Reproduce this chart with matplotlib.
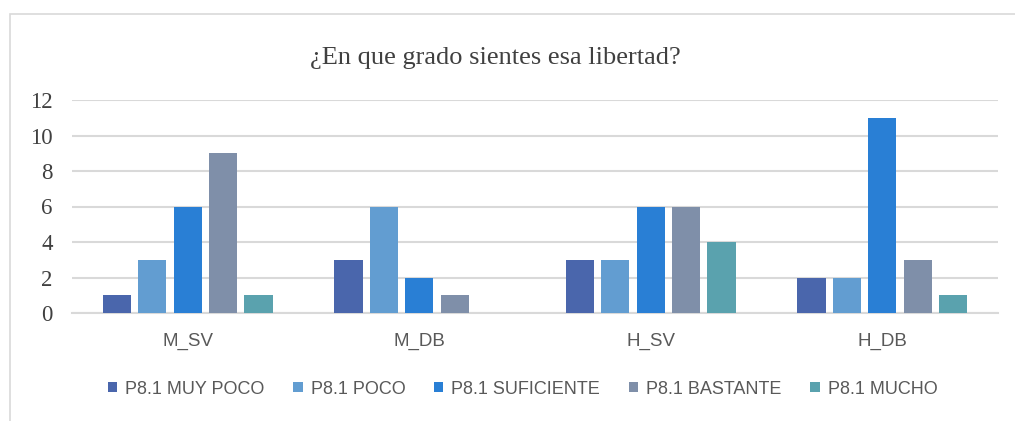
import numpy as np
import matplotlib.pyplot as plt
from matplotlib.patches import Rectangle

groups = ['M_SV', 'M_DB', 'H_SV', 'H_DB']
series = ['P8.1 MUY POCO', 'P8.1 POCO', 'P8.1 SUFICIENTE', 'P8.1 BASTANTE', 'P8.1 MUCHO']
values = [
  [1, 3, 3, 2],
  [3, 6, 3, 2],
  [6, 2, 6, 11],
  [9, 1, 6, 3],
  [1, 0, 4, 1],
]
colors = ['#4A66AC', '#629DD1', '#297FD5', '#7F8FA9', '#5AA2AE']
yticks = [0, 2, 4, 6, 8, 10, 12]

fig = plt.figure(figsize=(10.15, 4.21), dpi=100)
ax = fig.add_axes([72/1015, 1 - 313/421, (998 - 72)/1015, (313 - 100)/421])

# outer chart frame
fig.patches.append(Rectangle((10/1015, -0.1), 1.2, 1 - 14/421 + 0.1,
                             transform=fig.transFigure, fill=False,
                             edgecolor='#D9D9D9', lw=1.2))

x = np.arange(len(groups))
w = 0.122
step = 0.153
for i, (name, vals, c) in enumerate(zip(series, values, colors)):
  pos = x + (i - 2) * step
  v = np.array(vals, dtype=float)
  ax.bar(pos[v > 0], v[v > 0], width=w, color=c, label=name, zorder=3)

ax.set_xlim(-0.5, len(groups) - 0.5)
ax.set_ylim(0, 12)
ax.set_yticks(yticks)
ax.set_yticklabels([str(t) for t in yticks], family='Liberation Serif',
                   fontsize=16.5, color='#404040')
ax.yaxis.grid(True, color='#D9D9D9', lw=1.5, zorder=0)
ax.set_xticks(x)
ax.set_xticklabels(groups, family='Liberation Sans', fontsize=13.5, color='#595959')
ax.tick_params(axis='both', length=0)
ax.tick_params(axis='y', pad=14)
ax.tick_params(axis='x', pad=14)
for s in ['top', 'right', 'left']:
  ax.spines[s].set_visible(False)
ax.spines['bottom'].set_color('#D9D9D9')
ax.spines['bottom'].set_linewidth(1.5)

fig.text(495/1015, 1 - 58/421, '¿En que grado sientes esa libertad?', ha='center', va='center',
         family='Liberation Serif', fontsize=19, color='#404040')

leg = fig.legend(loc='center', bbox_to_anchor=(0.515, 1 - 389/421), ncol=5, frameon=False,
                 prop={'family': 'Liberation Sans', 'size': 13},
                 handlelength=0.5, handleheight=0.5, handletextpad=0.45, columnspacing=1.6)
for t in leg.get_texts():
  t.set_color('#595959')

fig.savefig('out.png', dpi=100)
